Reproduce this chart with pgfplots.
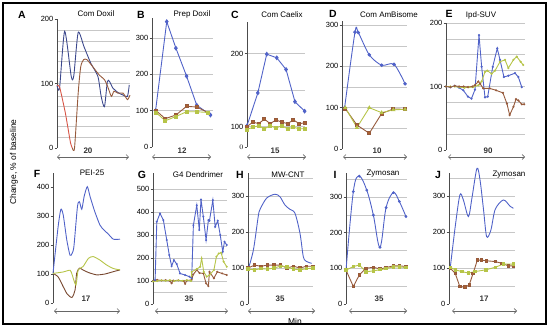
\documentclass[border=0pt]{standalone}
\usepackage{fontspec}
\setmainfont{Liberation Sans}
\usepackage{pgfplots}
\pgfplotsset{compat=1.18}
\usetikzlibrary{arrows.meta}
\definecolor{cblue}{RGB}{80,98,200}
\definecolor{dblue}{RGB}{60,72,140}
\definecolor{cbrown}{RGB}{150,90,60}
\definecolor{cgreen}{RGB}{182,196,72}
\definecolor{cred}{RGB}{215,85,70}
\pgfplotsset{
  panel/.style={
    scale only axis, anchor=south west, clip=false,
    axis x line=none, axis y line=left,
    axis line style={-, draw=black!70, line width=0.6pt},
    tick align=outside, major tick length=2.5bp, minor tick length=0bp,
    ytick style={black!70, line width=0.6pt},
    yticklabel style={font=\fontsize{7.5}{8}\selectfont, inner sep=1pt},
    /pgf/number format/assume math mode=true,
    grid style={black!22, line width=0.5pt},
    ymajorgrids=false, yminorgrids,
    every axis plot/.append style={line width=0.9pt},
  },
  bl/.style={cblue, mark=diamond*, mark size=1.8pt, mark options={fill=cblue}},
  br/.style={cbrown, mark=square*, mark size=1.5pt, mark options={fill=cbrown!80!orange}},
  gr/.style={cgreen, mark=square*, mark size=1.5pt, mark options={fill=cgreen}},
}
\begin{document}
\begin{tikzpicture}
\begin{scope}[x=1bp,y=1bp]
\path[use as bounding box] (0,0) rectangle (550,329);
\draw[line width=1.1pt] (3,5) rectangle (546,326);
\end{scope}

% ---------- A ----------
\begin{axis}[panel, at={(57bp,181bp)}, width=73bp, height=129bp,
  xmin=0, xmax=20, ymin=0, ymax=200, ytick={0,100,200},
  minor ytick={17,33,49,65,81,100,118,134,150,166,182}]
\addplot[dblue, smooth, tension=0.4] coordinates {(0,97)(0.7,93)(2.1,181)(3.9,111)(4.6,112)(5.8,179)(7.4,157)(9.3,131)(11.2,111)(12.1,80)(13,64)(13.8,103)(14.4,103)(15.3,93)(16.7,86)(18.1,82)(19.3,80)(19.8,98)};
\addplot[cred, smooth, tension=0.3] coordinates {(0,97)(0.7,95)(2.3,54)(3.7,8)(4.2,0)};
\addplot[cbrown, smooth, tension=0.4] coordinates {(4.2,0)(4.8,0)(5.8,85)(6.5,126)(7.3,137)(8.2,137)(9.8,126)(11.6,113)(13,106)(13.9,95)(14.9,80)(15.6,88)(16.7,85)(18.1,85)(19.3,75)(20,82)};
\end{axis}

% ---------- B ----------
\begin{axis}[panel, at={(152bp,182bp)}, width=61bp, height=129bp,
  xmin=0, xmax=12, ymin=0, ymax=355, ytick={0,100,200,300},
  minor ytick={50,100,...,300}]
\addplot[bl] coordinates {(0.7,100)(2.9,345)(4.7,272)(6.8,195)(8.8,115)(11.5,88)};
\addplot[br] coordinates {(0.8,100)(2.6,78)(4.7,88)(6.8,112)(8.8,110)(11,95)};
\addplot[gr] coordinates {(0.8,95)(2.6,72)(4.7,84)(6.8,97)(8.8,97)(11,95)};
\end{axis}

% ---------- C ----------
\begin{axis}[panel, at={(247bp,182bp)}, width=58bp, height=125bp,
  xmin=0, xmax=15, ymin=72, ymax=243, ytick={100,200},
  extra y ticks={72}, extra y tick labels={$0$},
  extra y tick style={yticklabel style={font=\fontsize{7.5}{8}\selectfont}, grid=none},
  minor ytick={100,150,200}]
\addplot[bl] coordinates {(0,101)(2.8,146)(5.1,199)(7.7,194)(10.1,178)(12.4,134)(14.9,121)};
\addplot[br] coordinates {(0,100)(1.5,106)(3,104)(4.5,110)(6,104)(7.5,109)(9,106)(10.5,104)(12,109)(13.5,104)(15,105)};
\addplot[gr] coordinates {(0,96)(1.5,99)(3,101)(4.5,97)(6,101)(7.5,98)(9,101)(10.5,97)(12,99)(13.5,97)(15,97)};
\end{axis}

% ---------- D ----------
\begin{axis}[panel, at={(342bp,180bp)}, width=65bp, height=128bp,
  xmin=0, xmax=10, ymin=0, ymax=310, ytick={0,100,200,300},
  minor ytick={50,100,...,300}]
\addplot[bl, smooth, tension=0.5, mark=*, mark size=1.3pt] coordinates {(0.4,100)(2,283)(2.5,282)(4.2,228)(6.1,203)(8,205)(9.7,158)};
\addplot[br] coordinates {(0.5,98)(2.3,58)(4.2,38)(6.1,86)(7.9,97)(9.7,96)};
\addplot[gr, mark=triangle*, mark size=1.6pt] coordinates {(0.5,100)(2.3,52)(4.2,100)(6.1,88)(7.9,95)(9.7,96)};
\end{axis}

% ---------- E ----------
\begin{axis}[panel, at={(446bp,179bp)}, width=79bp, height=127bp,
  xmin=0, xmax=90, ymin=0, ymax=200, ytick={0,100,200},
  minor ytick={25,50,...,200}]
\addplot[cblue, mark=*, mark size=0.6pt] coordinates {(0,100)(5,99)(10,101)(15,98)(19.7,94)(25,84)(29,81)(33,95)(37.6,181)(40.6,131)(44.4,83)(47.5,84)(53.2,131)(58.4,160)(61.5,142)(66,115)(71,117)(78.6,121)(82.4,115)(86.3,99)};
\addplot[cgreen, mark=*, mark size=0.6pt] coordinates {(0,100)(5,100)(10.2,100)(15,99)(21,98)(26,99)(30.8,99)(36.8,102)(40.6,108)(44.4,123)(47,125)(52,120)(55.9,125)(61.5,139)(67.2,142)(71,129)(76.8,142)(80.6,147)(85,139)(87.9,134)};
\addplot[cbrown, mark=*, mark size=0.6pt] coordinates {(0,100)(5,99)(10,101)(15,100)(20,100)(25,99)(30,100)(33,102)(36.8,108)(39,104)(42.4,97)(50,97)(57,94)(64.8,90)(69.4,73)(72.5,55)(76.8,68)(79.7,80)(82.4,78)(86.3,72)(89,72)};
\end{axis}

% ---------- F ----------
\begin{axis}[panel, at={(53bp,26bp)}, width=67bp, height=130bp,
  xmin=0, xmax=17, ymin=0, ymax=448, ytick={0,100,200,300,400}, yminorgrids=false]
\addplot[cblue, smooth, tension=0.4] coordinates {(0,102)(1.3,263)(2,323)(2.6,303)(3.5,217)(4.3,165)(4.8,170)(5.3,194)(6.2,332)(6.7,349)(7.3,323)(7.9,367)(8.7,401)(9.4,367)(10.6,315)(11.9,269)(12.9,252)(14,238)(15.3,220)(17,220)};
\addplot[cbrown!80!black, smooth, tension=0.4] coordinates {(0,102)(1.3,90)(2.6,56)(3.5,33)(4.3,22)(4.9,20)(5.6,45)(6,102)(6.7,120)(7.6,114)(9,105)(11.1,97)(13.2,100)(15.3,108)(17,114)};
\addplot[cgreen, smooth, tension=0.4] coordinates {(0,102)(2.6,107)(4.3,113)(4.8,100)(5.8,62)(6.4,114)(7.6,125)(9,154)(10.2,160)(11.9,148)(13.6,131)(15.3,119)(17,114)};
\end{axis}

% ---------- G ----------
\begin{axis}[panel, at={(153bp,25bp)}, width=74bp, height=131bp,
  xmin=0, xmax=35, ymin=0, ymax=570, ytick={0,100,...,500},
  minor ytick={50,100,...,500}]
\addplot[cblue, mark=*, mark size=0.5pt] coordinates {(0,100)(1,104)(1.8,358)(3.3,394)(4.9,365)(6.5,278)(7.7,213)(8.8,165)(9.9,191)(11.2,174)(12.8,133)(15.2,126)(17.2,119)(18.3,112)(19.1,343)(20.7,430)(21.9,322)(22.7,455)(23.8,380)(25.1,278)(26.2,365)(26.7,362)(28.3,452)(29.4,336)(30.6,362)(31.8,300)(33,227)(33.8,271)(34.9,257)};
\addplot[cbrown, mark=*, mark size=0.5pt] coordinates {(0,100)(2,105)(4,102)(6,104)(8,100)(8.8,90)(9.6,102)(12,103)(14.5,100)(15.2,88)(16,102)(18.3,105)(19,128)(20.7,148)(22,135)(23.8,133)(25.1,90)(26.2,78)(26.7,140)(28.8,112)(30.4,140)(32.7,133)(34.9,126)};
\addplot[cgreen, mark=*, mark size=0.5pt] coordinates {(0,98)(2,100)(4,103)(6,101)(8,104)(10,100)(12,103)(14,101)(16,104)(18,100)(18.3,140)(20.7,152)(22.3,162)(23,199)(24,140)(25.4,119)(26.7,126)(28.8,148)(30,206)(31.1,220)(32.2,223)(33.4,184)(34.9,162)};
\end{axis}

% ---------- H ----------
\begin{axis}[panel, at={(248bp,25bp)}, width=65bp, height=131bp,
  xmin=0, xmax=35, ymin=0, ymax=364, ytick={0,100,200,300},
  minor ytick={50,100,...,350}]
\addplot[cblue, smooth, tension=0.5] coordinates {(0,95)(2.9,150)(5.5,243)(6.5,263)(10,294)(14.5,305)(17.2,298)(19.9,275)(22.6,263)(25.3,252)(28,196)(29.8,131)(31.6,118)(34.3,113)};
\addplot[br, mark size=1.2pt] coordinates {(0,100)(3.5,108)(7,105)(10.5,108)(14,108)(17.5,108)(21,100)(24.5,105)(28,100)(31.5,105)(35,105)};
\addplot[gr, mark size=1.2pt] coordinates {(0,97)(3.5,95)(7,98)(10.5,97)(14,100)(17.5,105)(21,103)(24.5,97)(28,95)(31.5,98)(35,100)};
\end{axis}

% ---------- I ----------
\begin{axis}[panel, at={(346bp,25bp)}, width=61bp, height=131bp,
  xmin=0, xmax=35, ymin=0, ymax=367, ytick={0,100,200,300},
  minor ytick={50,100,...,350}]
\addplot[cblue, smooth, tension=0.6, mark=*, mark size=0.9pt] coordinates {(0,95)(4.2,315)(7.6,358)(11.9,319)(15.7,249)(19.5,159)(23,270)(27.2,312)(30.6,287)(34.4,245)};
\addplot[br, mark size=1.2pt] coordinates {(0,95)(4.2,49)(7.6,81)(11.5,100)(15.7,103)(19.5,98)(23,102)(27.2,107)(30.6,107)(34.4,105)};
\addplot[gr, mark size=1.2pt] coordinates {(0,95)(4.2,105)(7.6,109)(11.5,90)(15.7,93)(19.5,96)(23,99)(27.2,104)(30.6,104)(34.4,102)};
\end{axis}

% ---------- J ----------
\begin{axis}[panel, at={(449bp,25bp)}, width=66bp, height=131bp,
  xmin=0, xmax=17, ymin=0, ymax=364, ytick={0,100,200,300},
  minor ytick={50,100,...,350}]
\addplot[cblue, smooth, tension=0.5] coordinates {(0.3,99)(1.6,215)(2.8,303)(3.7,289)(5,243)(5.9,294)(7.2,377)(8,344)(8.9,261)(9.7,187)(10.8,206)(11.9,263)(14,289)(15.7,272)(16.6,266)};
\addplot[br, mark size=1.2pt] coordinates {(0.3,100)(1.6,85)(2.8,48)(4.1,47)(5.2,53)(6.2,85)(7.3,122)(8.4,122)(9.7,120)(11.9,118)(13.6,113)(15.3,106)(16.6,106)};
\addplot[gr, mark size=1.2pt] coordinates {(0.3,102)(1.6,95)(3.3,90)(5,86)(6.7,90)(9.5,95)(11.9,102)(14,111)(16.6,111)};
\end{axis}

\begin{scope}[x=1bp,y=1bp]
% ---------- letters ----------
\begin{scope}[every node/.style={font=\bfseries\fontsize{10.5}{11}\selectfont}]
\node at (22,314) {A}; \node at (141,314) {B}; \node at (235,314) {C};
\node at (333,315) {D}; \node at (449,315) {E};
\node at (37,155) {F}; \node at (142,154) {G}; \node at (240,154) {H};
\node at (335,154) {I}; \node at (438,154) {J};
\end{scope}
% ---------- titles ----------
\begin{scope}[every node/.style={font=\fontsize{8}{9}\selectfont}]
\node at (96,315) {Com Doxil}; \node at (192,315) {Prep Doxil};
\node at (282,314) {Com Caelix}; \node at (389,314) {Com AmBisome};
\node at (481,314) {Ipd-SUV};
\node at (92,156) {PEI-25}; \node at (198,154) {G4 Dendrimer};
\node at (288,154) {MW-CNT}; \node at (383,155) {Zymosan};
\node at (509,154) {Zymosan};
\end{scope}
% ---------- arrows ----------
\begin{scope}[black!60, line width=0.6pt, {Straight Barb[length=2.5bp,width=5bp]}-{Straight Barb[length=2.5bp,width=5bp]}]
\draw (57,172) -- (129,172); \draw (152,172) -- (211,172); \draw (247,172) -- (306,172);
\draw (343,172) -- (407,172); \draw (448,172) -- (525,172);
\draw (54,18) -- (120,18); \draw (155,18) -- (228,18); \draw (248,18) -- (315,18);
\draw (349,18) -- (407,18); \draw (452,18) -- (517,18);
\end{scope}
\begin{scope}[every node/.style={font=\bfseries\fontsize{8}{9}\selectfont, text=black!80}]
\node at (88,178) {20}; \node at (182,178) {12}; \node at (275,178) {15};
\node at (377,178) {10}; \node at (488,178) {90};
\node at (86,30) {17}; \node at (189,30) {35}; \node at (280,30) {35};
\node at (379,30) {35}; \node at (484,30) {17};
\end{scope}
\node[rotate=90, font=\fontsize{8.5}{9}\selectfont] at (14,167) {Change, \% of baseline};
\node[font=\fontsize{8.5}{9}\selectfont] at (295,8) {Min};
\end{scope}
\end{tikzpicture}
\end{document}
